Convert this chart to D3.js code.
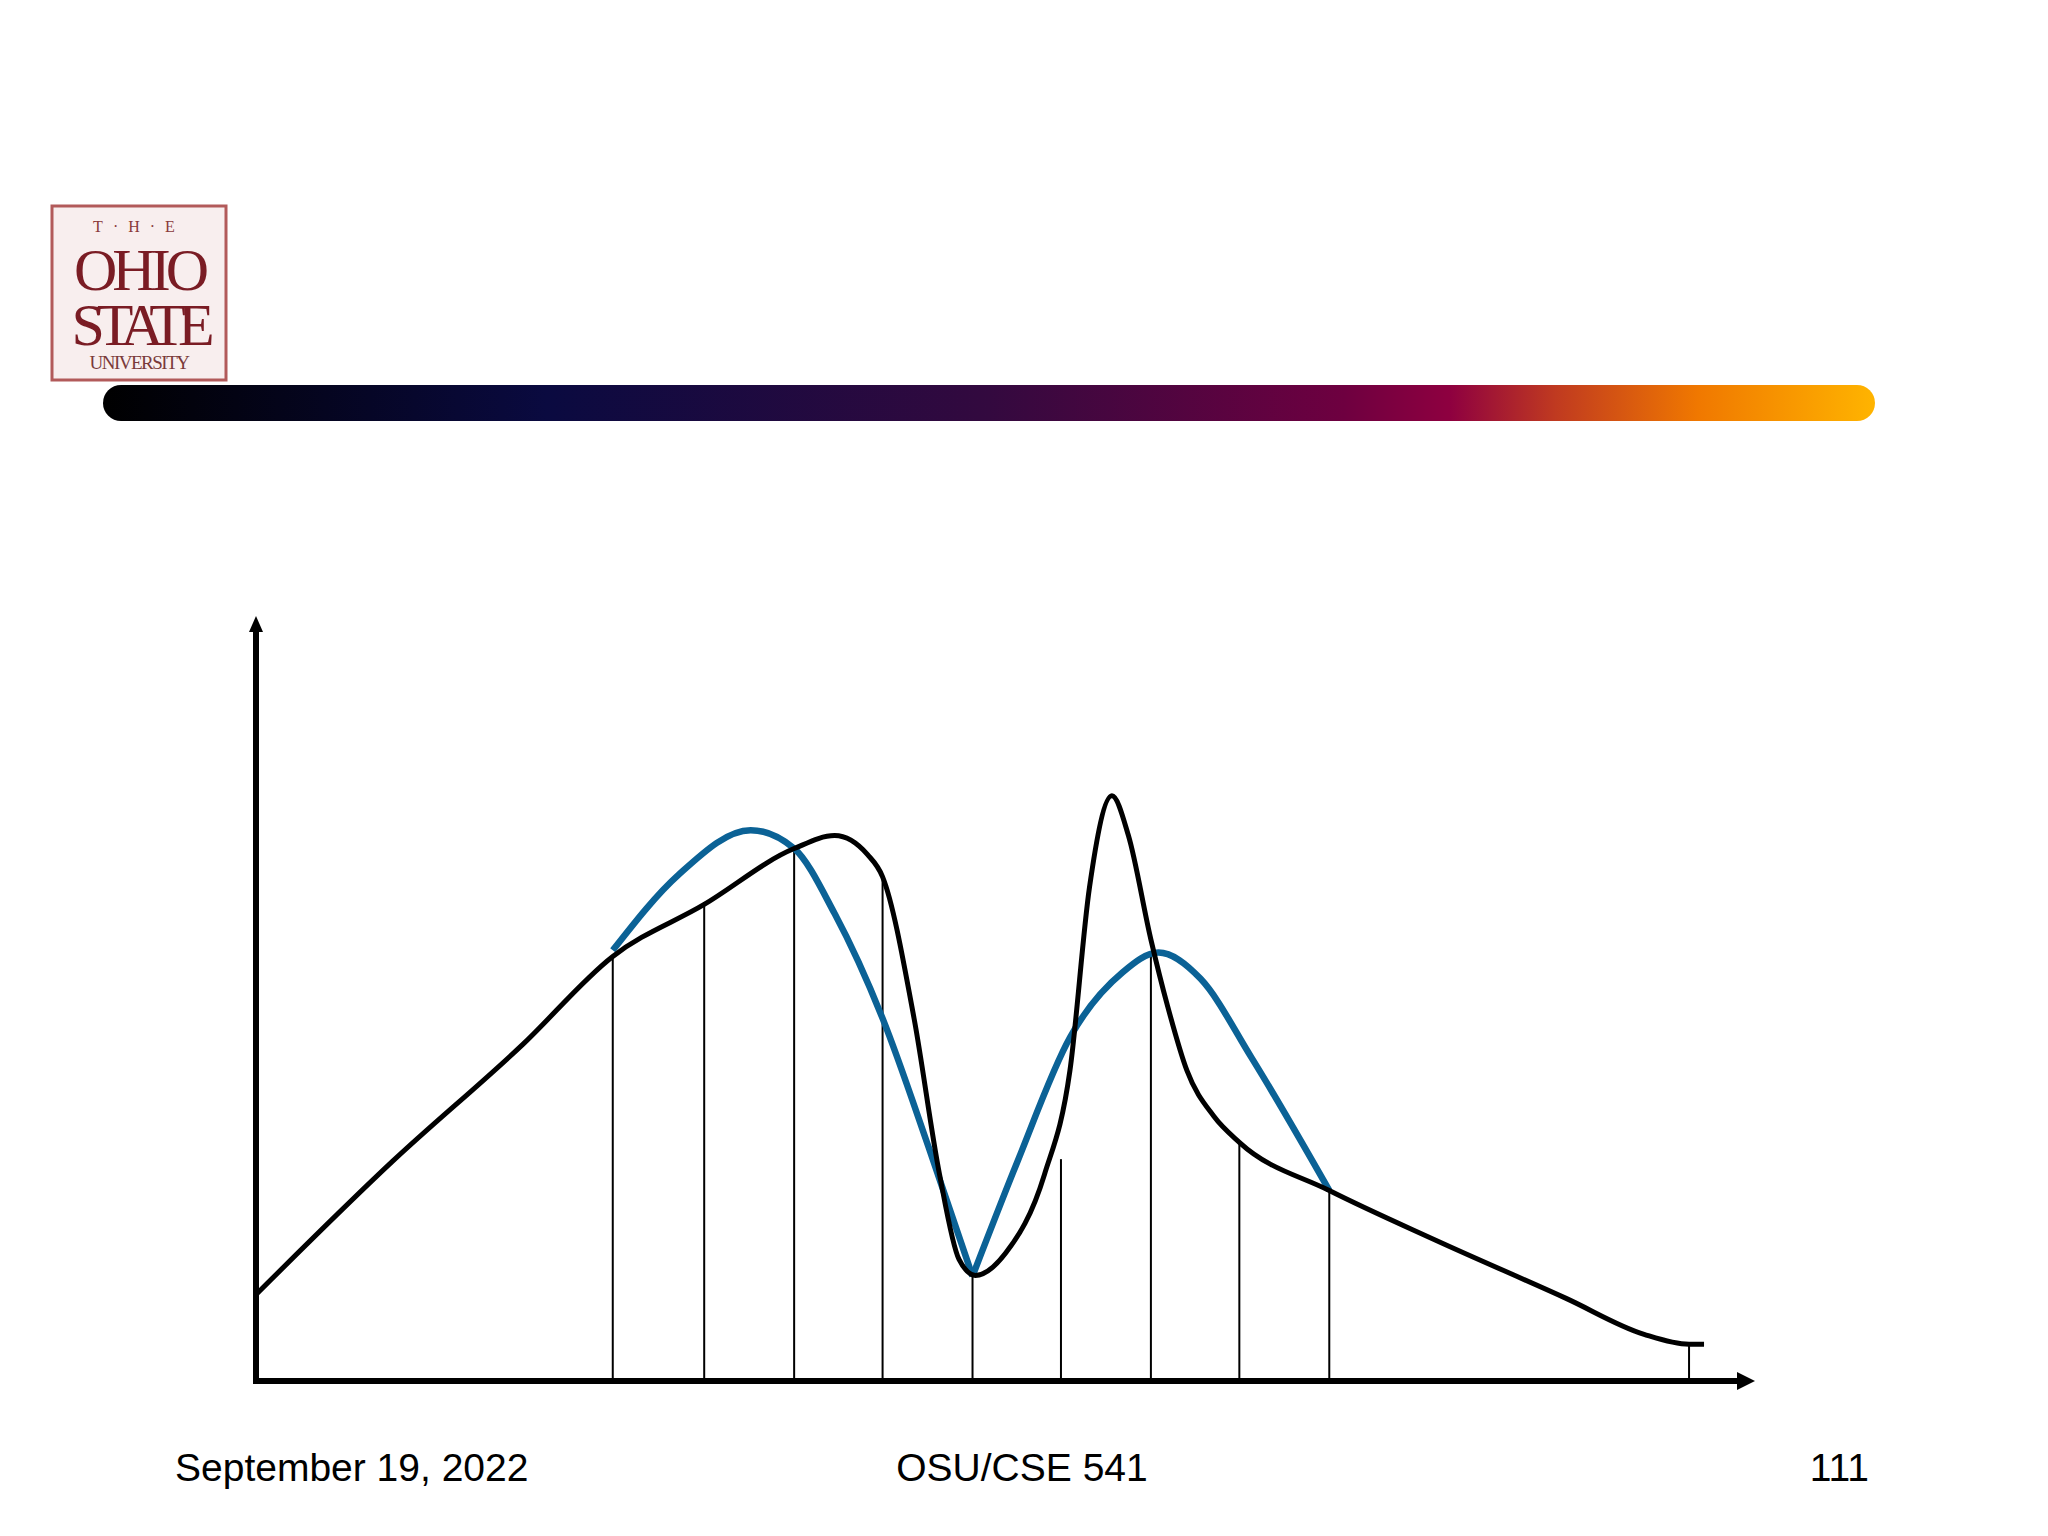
<!DOCTYPE html>
<html lang="en">
<head>
<meta charset="UTF-8">
<title>OSU/CSE 541 slide 111</title>
<script src="https://d3js.org/d3.v7.min.js"></script>
<style>
  body { margin: 0; background: #fff; }
  .foot { font-family: "Liberation Sans", Arial, sans-serif; }
  .logo text { font-family: "Liberation Serif", "DejaVu Serif", serif; }
</style>
</head>
<body>
<div id="chart"></div>
<script>
// black curve (true density), x/y in 0..100 units
const blackX = [0, 9.1, 17.8, 23.8, 29.9, 35.9, 38.6, 40.8, 41.8, 43.9, 45.6, 46.9, 48.0, 50.0, 52.6, 54.3, 55.6, 57.1, 58.2, 59.7, 60.8, 62.1, 63.9, 65.6, 71.6, 78.7, 87.4, 92.6, 95.6, 96.6];
const blackY = [11.3, 28.7, 44.0, 55.5, 62.3, 69.6, 71.3, 68.8, 65.9, 47.4, 27.0, 15.9, 13.8, 16.7, 27.0, 40.6, 64.5, 76.5, 71.3, 57.7, 49.1, 40.6, 34.6, 31.2, 24.9, 18.4, 10.8, 6.1, 4.8, 4.8];
// blue approximation, two arcs meeting at the cusp
const blueLeftX = [23.8, 28.2, 33.0, 35.9, 38.6, 41.8, 44.9, 47.8];
const blueLeftY = [56.3, 66.2, 72.0, 69.6, 61.1, 47.4, 30.4, 13.7];
const blueRightX = [47.8, 50.8, 54.3, 57.8, 60.2, 63.0, 66.4, 71.6];
const blueRightY = [13.7, 28.7, 44.9, 53.4, 56.0, 52.6, 42.3, 24.9];
// sample stems
const stemX = [23.8, 29.9, 35.9, 41.8, 47.8, 53.7, 59.7, 65.6, 71.6, 95.6];
const stemTop = [55.5, 62.3, 69.6, 65.9, 13.7, 29.0, 55.7, 31.2, 24.9, 4.8];

const W = 2048, H = 1536;
const svg = d3.select("#chart").append("svg").attr("width", W).attr("height", H);

// logo
const logo = svg.append("g").attr("class", "logo");
logo.append("rect").attr("x", 52).attr("y", 206).attr("width", 174).attr("height", 174)
  .attr("fill", "#f8eeee").attr("stroke", "#b25a5a").attr("stroke-width", 3);
logo.append("text").attr("x", 139).attr("y", 232).attr("text-anchor", "middle")
  .attr("font-size", 16).attr("fill", "#8a3a3a").attr("letter-spacing", 10).text("T·H·E");
logo.append("text").attr("x", 139).attr("y", 290).attr("text-anchor", "middle")
  .attr("font-size", 60).attr("fill", "#7a1c24").attr("letter-spacing", -5).text("OHIO");
logo.append("text").attr("x", 139).attr("y", 345).attr("text-anchor", "middle")
  .attr("font-size", 60).attr("fill", "#7a1c24").attr("letter-spacing", -8).text("STATE");
logo.append("text").attr("x", 139).attr("y", 369).attr("text-anchor", "middle")
  .attr("font-size", 19).attr("fill", "#7a3a3a").attr("letter-spacing", -1.5).text("UNIVERSITY");

// gradient bar
const grad = svg.append("defs").append("linearGradient").attr("id", "bar");
[[0, "#000000"], [0.25, "#0a0a40"], [0.5, "#33093f"], [0.7, "#6e0040"], [0.76, "#8e0040"],
 [0.82, "#c03a20"], [0.9, "#f07800"], [1, "#ffb400"]]
  .forEach(([o, c]) => grad.append("stop").attr("offset", o).attr("stop-color", c));
svg.append("rect").attr("x", 103).attr("y", 385).attr("width", 1772).attr("height", 36)
  .attr("rx", 18).attr("fill", "url(#bar)");

// plot
const x = d3.scaleLinear().domain([0, 100]).range([256, 1755]);
const y = d3.scaleLinear().domain([0, 100]).range([1381, 616]);

svg.append("g").selectAll("line").data(stemX).join("line")
  .attr("x1", d => x(d)).attr("x2", d => x(d))
  .attr("y1", y(0)).attr("y2", (d, i) => y(stemTop[i]))
  .attr("stroke", "#000").attr("stroke-width", 2);

const line = d3.line().x(d => x(d[0])).y(d => y(d[1])).curve(d3.curveMonotoneX);
const zip = (a, b) => a.map((v, i) => [v, b[i]]);

svg.append("path").attr("d", line(zip(blueLeftX, blueLeftY)))
  .attr("fill", "none").attr("stroke", "#0b6296").attr("stroke-width", 6.5);
svg.append("path").attr("d", line(zip(blueRightX, blueRightY)))
  .attr("fill", "none").attr("stroke", "#0b6296").attr("stroke-width", 6.5);
svg.append("path").attr("d", line(zip(blackX, blackY)))
  .attr("fill", "none").attr("stroke", "#000").attr("stroke-width", 5);

// axes with arrows
svg.append("line").attr("x1", x(0)).attr("x2", x(100) - 12).attr("y1", y(0)).attr("y2", y(0))
  .attr("stroke", "#000").attr("stroke-width", 6);
svg.append("path").attr("d", `M${x(100)},${y(0)} l-18,-9 v18 z`).attr("fill", "#000");
svg.append("line").attr("x1", x(0)).attr("x2", x(0)).attr("y1", y(0) + 3).attr("y2", y(100) + 12)
  .attr("stroke", "#000").attr("stroke-width", 6);
svg.append("path").attr("d", `M${x(0)},${y(100)} l-7,16 h14 z`).attr("fill", "#000");

// footer
svg.append("text").attr("class", "foot").attr("x", 175).attr("y", 1481).attr("font-size", 39).text("September 19, 2022");
svg.append("text").attr("class", "foot").attr("x", 1022).attr("y", 1481).attr("font-size", 39).attr("text-anchor", "middle").text("OSU/CSE 541");
svg.append("text").attr("class", "foot").attr("x", 1869).attr("y", 1481).attr("font-size", 39).attr("text-anchor", "end").text("111");
</script>
</body>
</html>
